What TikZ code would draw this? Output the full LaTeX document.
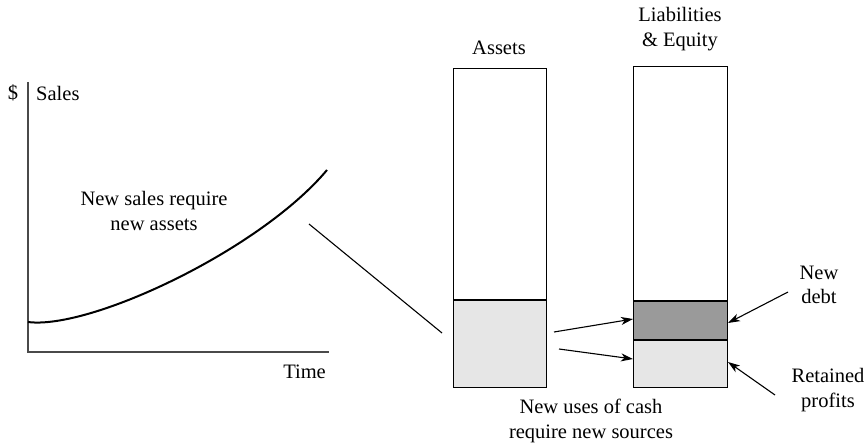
\documentclass[tikz,border=0pt]{standalone}
\usepackage{fontspec}
\setmainfont{Liberation Serif}
\usetikzlibrary{arrows.meta}
\definecolor{axisgray}{HTML}{4A4A4A}
\definecolor{lightfill}{HTML}{E6E6E6}
\definecolor{darkfill}{HTML}{9A9A9A}
\begin{document}
\begin{tikzpicture}[x=1pt,y=-1pt,
  lbl/.style={inner sep=0pt,align=center,font=\fontsize{20.5}{24.5}\selectfont},
  axis/.style={draw=axisgray,line width=2pt},
  col/.style={draw=black,line width=1.3pt},
  arr/.style={line width=1.1pt,-{Stealth[length=12pt,width=8pt,inset=3.5pt]}}]
\useasboundingbox (0,0) rectangle (867,446);

% sales chart
\coordinate (o) at (28,352);
\coordinate (ytop) at (28,82);
\coordinate (xend) at (329,352);
\draw[axis] (ytop) -- (o) -- (xend);
\coordinate (c0) at (28,322);
\coordinate (c3) at (327,170);
\draw[line width=2pt] (c0) .. controls (90,330) and (260,250) .. (c3);
\node[lbl] (dollar) at (13,93) {\$};
\node[lbl,anchor=west] (sales) at (36,93) {Sales};
\node[lbl,anchor=east] (time) at (326,372) {Time};
\node[lbl] (newsales) at (154,211) {New sales require\\new assets};

% link from the chart to the balance sheet
\coordinate (l1) at (309,224);
\coordinate (l2) at (442,333);
\draw[line width=1.1pt] (l1) -- (l2);

% assets column
\fill[lightfill] (453,300) rectangle (546,387);
\node[col,minimum width=93pt,minimum height=319pt,inner sep=0pt,anchor=north west] (assets) at (453,68) {};
\draw[col] (453,300) -- (546,300);
\node[lbl] (assetslbl) at (499,48) {Assets};

% liabilities & equity column
\fill[darkfill] (633,301) rectangle (727,340);
\fill[lightfill] (633,340) rectangle (727,387);
\node[col,minimum width=94pt,minimum height=321pt,inner sep=0pt,anchor=north west] (le) at (633,66) {};
\draw[col] (633,301) -- (727,301);
\draw[col] (633,340) -- (727,340);
\node[lbl] (lelbl) at (680,29) {Liabilities\\\& Equity};
\coordinate (debtin) at (633,319);
\coordinate (rpin) at (633,359);
\coordinate (debtright) at (728,323);
\coordinate (rpright) at (728,362);

% sources and uses arrows
\coordinate (u1) at (554,332);
\coordinate (u2) at (559,349);
\draw[arr] (u1) -- (debtin);
\draw[arr] (u2) -- (rpin);

\node[lbl] (newdebt) at (819,285) {New\\debt};
\node[lbl] (retained) at (828,390) {Retained\\profits};
\coordinate (d0) at (788,292);
\coordinate (r0) at (775,395);
\draw[arr] (d0) -- (debtright);
\draw[arr] (r0) -- (rpright);

\node[lbl] (uses) at (591,421) {New uses of cash\\require new sources};
\end{tikzpicture}
\end{document}
